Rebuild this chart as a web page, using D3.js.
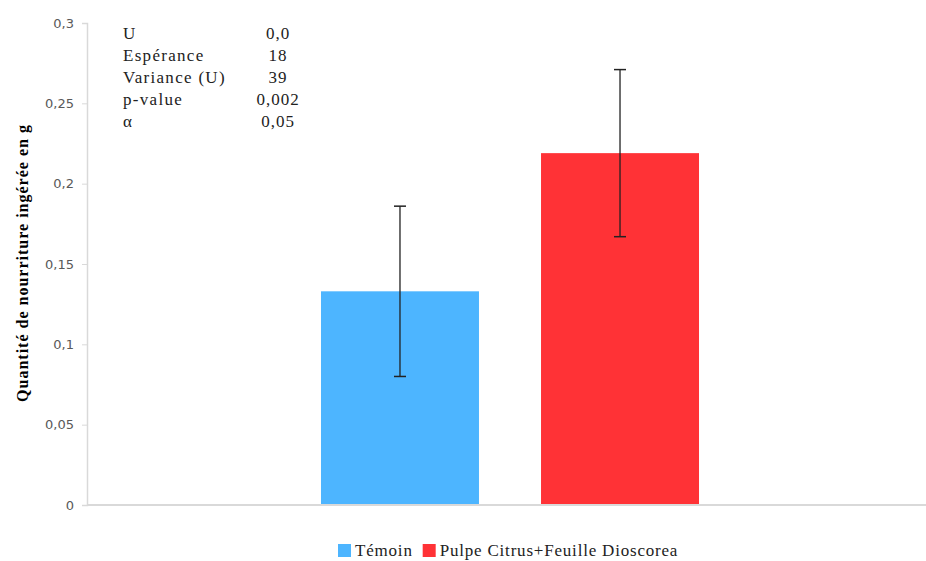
<!DOCTYPE html>
<html><head><meta charset="utf-8">
<script src="https://cdn.jsdelivr.net/npm/d3@7"></script>
<style>body{margin:0;background:#fff}svg{display:block}.serif{font-family:"Liberation Serif","Times New Roman",serif}</style>
</head><body>
<script>
const categories = ["Groupe"];
const series = ["Témoin", "Pulpe Citrus+Feuille Dioscorea"];
const means = [0.133, 0.219];
const errors = [0.053, 0.052];
const colors = ["#4db5ff", "#ff3236"];
const yTicks = [0, 0.05, 0.1, 0.15, 0.2, 0.25, 0.3];
const statNames = ["U", "Espérance", "Variance (U)", "p-value", "α"];
const statValues = ["0,0", "18", "39", "0,002", "0,05"];

(function () {
const W = 926, H = 561;
const svg = d3.select("body").append("svg").attr("width", W).attr("height", H);
const mLeft = 87, mTop = 23, mBottom = 505;
const y = d3.scaleLinear().domain([0, 0.3]).range([mBottom, mTop]);
const x0 = d3.scaleBand().domain(categories).range([87, 933]).paddingOuter(0.619);
const x1 = d3.scaleBand().domain(series).range([0, x0.bandwidth()]).paddingInner(0.282).paddingOuter(0);

const fmt = v => String(v).replace(".", ",");
const yAxis = d3.axisLeft(y).tickValues(yTicks).tickFormat(fmt).tickSize(5).tickPadding(8);
const gy = svg.append("g").attr("transform", `translate(${mLeft},0)`).call(yAxis);
gy.select(".domain").attr("stroke", "#d9d9d9").attr("stroke-width", 1.5);
gy.selectAll(".tick line").attr("stroke", "#d9d9d9");
gy.selectAll(".tick text").attr("fill", "#595959").style("font-family", "'DejaVu Sans', sans-serif").style("font-size", "13px");

const g = svg.append("g");
series.forEach((s, i) => {
  const bx = x0(categories[0]) + x1(s);
  g.append("rect").attr("x", bx).attr("y", y(means[i])).attr("width", x1.bandwidth())
    .attr("height", y(0) - y(means[i])).attr("fill", colors[i]);
});

svg.append("line").attr("x1", mLeft).attr("x2", W).attr("y1", y(0)).attr("y2", y(0))
  .attr("stroke", "#d9d9d9").attr("stroke-width", 2);

series.forEach((s, i) => {
  const cx = x0(categories[0]) + x1(s) + x1.bandwidth() / 2;
  const hi = y(means[i] + errors[i]), lo = y(means[i] - errors[i]);
  g.append("line").attr("x1", cx).attr("x2", cx).attr("y1", hi).attr("y2", lo).attr("stroke", "#222").attr("stroke-width", 1.3);
  [hi, lo].forEach(yy => g.append("line").attr("x1", cx - 6).attr("x2", cx + 6).attr("y1", yy).attr("y2", yy).attr("stroke", "#222").attr("stroke-width", 1.5));
});

svg.append("text").attr("class", "serif").attr("transform", `translate(28,263) rotate(-90)`)
  .attr("text-anchor", "middle").style("font-weight", "bold").style("letter-spacing", "1px")
  .style("font-size", "16px").attr("fill", "#000").text("Quantité de nourriture ingérée en g");

statNames.forEach((n, i) => {
  svg.append("text").attr("class", "serif").attr("x", 123).attr("y", 39 + i * 22)
    .style("font-size", "17px").style("letter-spacing", "1.3px").attr("fill", "#222").text(n);
  svg.append("text").attr("class", "serif").attr("x", 278).attr("y", 39 + i * 22).attr("text-anchor", "middle")
    .style("font-size", "17px").style("letter-spacing", "1px").attr("fill", "#222").text(statValues[i]);
});

const lg = svg.append("g");
let lx = 338;
series.forEach((s, i) => {
  lg.append("rect").attr("x", lx).attr("y", 544).attr("width", 13).attr("height", 13).attr("fill", colors[i]);
  const t = lg.append("text").attr("class", "serif").attr("x", lx + 17).attr("y", 556)
    .style("font-size", "17px").style("letter-spacing", "0.8px").attr("fill", "#222").text(s);
  lx += 17 + t.node().getComputedTextLength() + 10;
});
})();
</script>
</body></html>
